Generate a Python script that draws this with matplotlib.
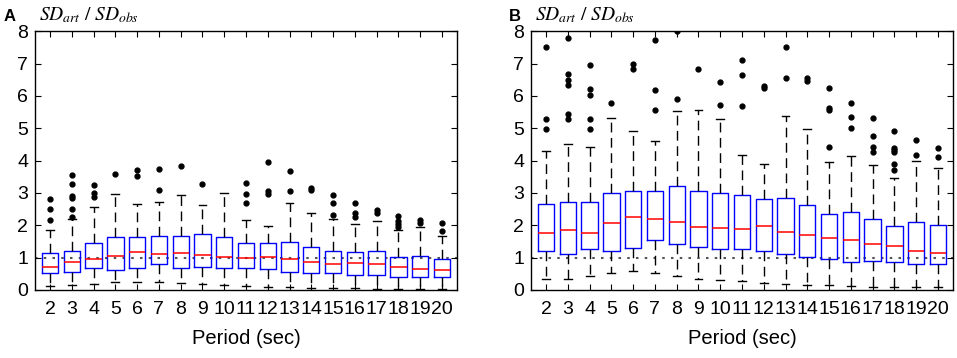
import matplotlib
matplotlib.use("Agg")
import matplotlib.pyplot as plt

plt.rcParams['font.family'] = ['Liberation Sans', 'DejaVu Sans']
plt.rcParams['mathtext.fontset'] = 'stix'

periods = list(range(2, 21))

# Panel A: SD_art / SD_obs box statistics per period
a_q1 = [0.52, 0.57, 0.69, 0.62, 0.68, 0.79, 0.69, 0.72, 0.69, 0.69,
        0.65, 0.57, 0.52, 0.52, 0.45, 0.45, 0.41, 0.41, 0.41]
a_med = [0.72, 0.86, 0.95, 1.06, 1.18, 1.12, 1.13, 1.07, 1.03, 0.99,
         1.02, 0.97, 0.86, 0.80, 0.84, 0.79, 0.70, 0.64, 0.61]
a_q3 = [1.15, 1.22, 1.46, 1.65, 1.65, 1.67, 1.67, 1.73, 1.65, 1.45,
        1.45, 1.48, 1.33, 1.22, 1.16, 1.19, 1.03, 1.04, 0.97]
a_lo = [0.13, 0.16, 0.19, 0.26, 0.26, 0.26, 0.21, 0.18, 0.15, 0.12,
        0.10, 0.09, 0.07, 0.06, 0.05, 0.04, 0.04, 0.03, 0.03]
a_hi = [1.86, 2.19, 2.55, 2.97, 2.65, 2.71, 2.94, 2.62, 3.01, 2.16,
        1.98, 2.70, 2.37, 2.19, 2.04, 2.13, 1.86, 1.94, 1.67]
a_fliers = [[2.16, 2.5, 2.8], [2.25, 2.5, 2.85, 2.9, 3.27, 3.56],
            [2.86, 3.0, 3.25], [3.57], [3.52, 3.7], [3.09, 3.75], [3.83],
            [3.27], [], [2.7, 2.97, 3.3], [2.97, 3.07, 3.97], [3.07, 3.67],
            [3.09, 3.14], [2.31, 2.7, 2.94], [2.25, 2.39, 2.7], [2.37, 2.48],
            [1.94, 2.03, 2.14, 2.29], [2.06, 2.16], [1.83, 2.08]]

# Panel B
b_q1 = [1.21, 1.11, 1.28, 1.21, 1.30, 1.56, 1.41, 1.32, 1.27, 1.26,
        1.19, 1.11, 1.01, 0.95, 0.88, 0.91, 0.85, 0.81, 0.79]
b_med = [1.75, 1.84, 1.75, 2.07, 2.25, 2.19, 2.09, 1.96, 1.93, 1.89,
         1.98, 1.80, 1.71, 1.61, 1.56, 1.42, 1.36, 1.19, 1.13]
b_q3 = [2.67, 2.71, 2.72, 3.01, 3.05, 3.06, 3.22, 3.06, 3.01, 2.93,
        2.80, 2.84, 2.64, 2.34, 2.40, 2.19, 1.98, 2.09, 2.00]
b_lo = [0.33, 0.35, 0.44, 0.51, 0.58, 0.54, 0.43, 0.35, 0.31, 0.27,
        0.23, 0.20, 0.16, 0.15, 0.12, 0.10, 0.09, 0.08, 0.08]
b_hi = [4.31, 4.52, 4.41, 5.32, 4.91, 4.60, 5.54, 5.56, 5.28, 4.16,
        3.88, 5.39, 4.97, 3.97, 4.15, 3.85, 3.47, 4.00, 3.77]
b_fliers = [[4.99, 5.29, 7.5], [5.3, 5.45, 6.35, 6.49, 6.68, 7.8],
            [4.97, 5.3, 6.04, 6.22, 6.96], [5.78], [6.83, 7.0],
            [5.56, 6.17, 7.73], [5.91, 8.0], [6.83], [5.72, 6.44],
            [5.68, 6.66, 7.1], [6.23, 6.3], [6.55, 7.5], [6.47, 6.54],
            [4.41, 5.55, 5.64, 6.24], [5.0, 5.35, 5.78],
            [4.26, 4.41, 4.76, 5.33], [3.71, 3.88, 4.27, 4.33, 4.38, 4.91],
            [4.17, 4.64], [4.12, 4.39]]


def draw_panel(ax, q1, med, q3, lo, hi, fliers):
    stats = []
    for i in range(len(periods)):
        stats.append(dict(q1=q1[i], med=med[i], q3=q3[i], whislo=lo[i],
                          whishi=hi[i], fliers=fliers[i], label=str(periods[i])))
    ax.axhline(1, color='#555555', ls=(0, (1.2, 3)), lw=1.5, zorder=0)
    ax.bxp(stats, widths=0.75, capwidths=0.36,
           boxprops=dict(color='blue', lw=1.0),
           medianprops=dict(color='red', lw=1.1),
           whiskerprops=dict(color='black', ls=(0, (7, 4)), lw=1.0),
           capprops=dict(color='black', lw=1.0),
           flierprops=dict(marker='o', markerfacecolor='black',
                           markeredgecolor='black', markersize=3.5))
    ax.set_ylim(0, 8)
    ax.set_xlim(0.31, 19.69)
    ax.set_yticks(range(0, 9))
    ax.tick_params(direction='in', top=True, right=True, length=4,
                   labelsize=14)
    ax.tick_params(axis='x', pad=8)
    ax.tick_params(axis='y', pad=5)
    ax.set_xlabel('Period (sec)', fontsize=14.5, labelpad=8)
    ax.text(0.01, 1.025, r'$SD_{art}\ \mathrm{/}\ SD_{obs}$', transform=ax.transAxes,
            fontsize=14, ha='left', va='bottom')
    for s in ax.spines.values():
        s.set_linewidth(1.0)
    return ax


fig = plt.figure(figsize=(9.57, 3.58), dpi=100)
ax1 = fig.add_axes([0.0366, 0.19, 0.4409, 0.723])
ax2 = fig.add_axes([0.5549, 0.19, 0.4409, 0.723])
draw_panel(ax1, a_q1, a_med, a_q3, a_lo, a_hi, a_fliers)
draw_panel(ax2, b_q1, b_med, b_q3, b_lo, b_hi, b_fliers)
fig.text(0.004, 0.975, 'A', fontsize=12, fontweight='bold', va='top')
fig.text(0.532, 0.975, 'B', fontsize=12, fontweight='bold', va='top')

fig.savefig('out.png', dpi=100)
